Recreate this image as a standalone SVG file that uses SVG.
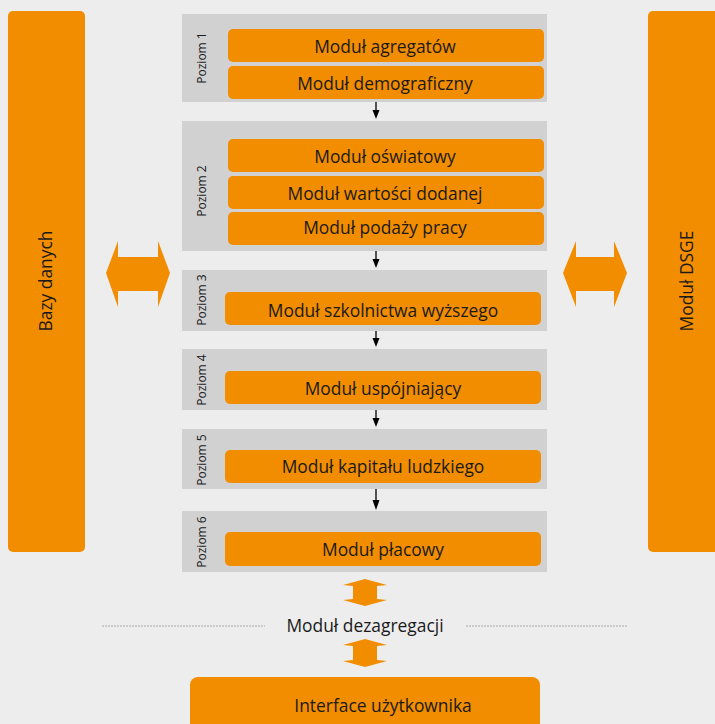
<svg xmlns="http://www.w3.org/2000/svg" width="715" height="724" viewBox="0 0 715 724">
<defs>
<style>
.bg{fill:#ededed}
.bar{fill:#f28d00}
.panel{fill:#d1d1d1}
.mod{fill:#f28d00}
.t{font-family:"Open Sans","Liberation Sans",sans-serif;font-size:17.4px;fill:#1a1a1a;text-anchor:middle}
.lv{font-family:"Open Sans","Liberation Sans",sans-serif;font-size:12px;fill:#1a1a1a;text-anchor:middle}
.conn{stroke:#000;stroke-width:1.3;fill:none}
.head{fill:#000}
.big{fill:#f28d00}
.dash{stroke:#a8a8a8;stroke-width:1;stroke-dasharray:2 1;fill:none}
</style>
</defs>
<rect class="bg" x="0" y="0" width="715" height="724"/>

<g id="bazy-danych">
<rect class="bar" x="8" y="11" width="77" height="541" rx="5"/>
<text class="t" transform="translate(52,281) rotate(-90)">Bazy danych</text>
</g>
<g id="modul-dsge">
<rect class="bar" x="648" y="11" width="80" height="541" rx="5"/>
<text class="t" transform="translate(693,281) rotate(-90)">Moduł DSGE</text>
</g>

<g id="poziom1">
<rect class="panel" x="182" y="14" width="365" height="88"/>
<text class="lv" transform="translate(206,58) rotate(-90)">Poziom 1</text>
<rect class="mod" x="228" y="29" width="316" height="33" rx="5"/>
<text class="t" x="385" y="53">Moduł agregatów</text>
<rect class="mod" x="228" y="66" width="316" height="33" rx="5"/>
<text class="t" x="385" y="90">Moduł demograficzny</text>
</g>

<g id="poziom2">
<rect class="panel" x="182" y="121" width="365" height="130"/>
<text class="lv" transform="translate(206,191) rotate(-90)">Poziom 2</text>
<rect class="mod" x="228" y="139" width="316" height="33" rx="5"/>
<text class="t" x="385" y="163">Moduł oświatowy</text>
<rect class="mod" x="228" y="176" width="316" height="33" rx="5"/>
<text class="t" x="385" y="200">Moduł wartości dodanej</text>
<rect class="mod" x="228" y="212" width="316" height="33" rx="5"/>
<text class="t" x="385" y="234">Moduł podaży pracy</text>
</g>

<g id="poziom3">
<rect class="panel" x="182" y="270" width="365" height="61"/>
<text class="lv" transform="translate(206,300) rotate(-90)">Poziom 3</text>
<rect class="mod" x="225" y="292" width="316" height="33" rx="5"/>
<text class="t" x="383" y="317">Moduł szkolnictwa wyższego</text>
</g>

<g id="poziom4">
<rect class="panel" x="182" y="349" width="365" height="61"/>
<text class="lv" transform="translate(206,380) rotate(-90)">Poziom 4</text>
<rect class="mod" x="225" y="371" width="316" height="33" rx="5"/>
<text class="t" x="383" y="395">Moduł uspójniający</text>
</g>

<g id="poziom5">
<rect class="panel" x="182" y="429" width="365" height="60"/>
<text class="lv" transform="translate(206,460) rotate(-90)">Poziom 5</text>
<rect class="mod" x="225" y="450" width="316" height="33" rx="5"/>
<text class="t" x="383" y="473">Moduł kapitału ludzkiego</text>
</g>

<g id="poziom6">
<rect class="panel" x="182" y="511" width="365" height="61"/>
<text class="lv" transform="translate(206,542) rotate(-90)">Poziom 6</text>
<rect class="mod" x="225" y="532" width="316" height="34" rx="5"/>
<text class="t" x="383" y="556">Moduł płacowy</text>
</g>

<g id="modul-dezagregacji">
<line class="dash" x1="102" y1="626" x2="265" y2="626"/>
<line class="dash" x1="466" y1="626" x2="628" y2="626"/>
<text class="t" x="365" y="632">Moduł dezagregacji</text>
</g>

<g id="interface">
<rect class="bar" x="190" y="677" width="350" height="60" rx="8"/>
<text class="t" x="383" y="712">Interface użytkownika</text>
</g>

<g id="connectors">
<line class="conn" x1="376" y1="102" x2="376" y2="111"/>
<polygon class="head" points="372.5,110 379.5,110 376,119"/>
<line class="conn" x1="376" y1="251" x2="376" y2="260"/>
<polygon class="head" points="372.5,259 379.5,259 376,268"/>
<line class="conn" x1="376" y1="331" x2="376" y2="339"/>
<polygon class="head" points="372.5,338 379.5,338 376,347"/>
<line class="conn" x1="376" y1="410" x2="376" y2="419"/>
<polygon class="head" points="372.5,418 379.5,418 376,427"/>
<line class="conn" x1="376" y1="489" x2="376" y2="501"/>
<polygon class="head" points="372.5,500 379.5,500 376,510"/>
<polygon class="big" points="106,273 118,241 118,257 158,257 158,241 170,273 158,307 158,291 118,291 118,307"/>
<polygon class="big" points="563,273 576,241 576,257 614,257 614,241 627,273 614,307 614,291 576,291 576,307"/>
<polygon class="big" points="365,579 387,585 377,586 377,599 387,600 365,606 343,600 353,599 353,586 343,585"/>
<polygon class="big" points="365,639 387,645 377,646 377,660 387,661 365,667 343,661 353,660 353,646 343,645"/>
</g>
</svg>
